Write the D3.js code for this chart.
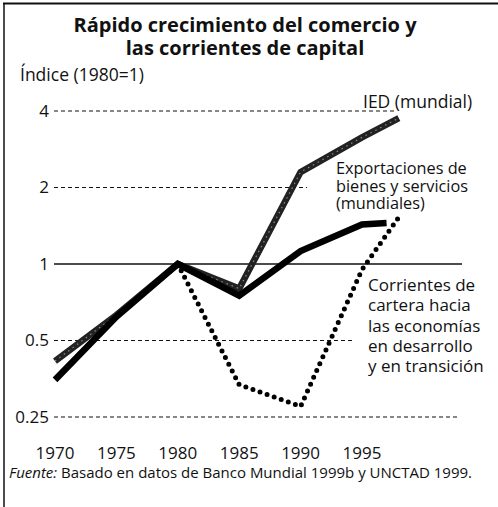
<!DOCTYPE html>
<html>
<head>
<meta charset="utf-8">
<script src="https://cdn.jsdelivr.net/npm/d3@7"></script>
<style>
  body { margin: 0; background: #fff; }
  text { font-family: 'Open Sans', sans-serif; fill: #111; }
</style>
</head>
<body>
<div id="chart"></div>
<script>
// data
var years = [ 1970, 1975, 1980, 1985, 1990, 1995 ];
var yTicks = [ 0.25, 0.5, 1, 2, 4 ];
var yTickLabels = [ '0.25', '0.5', '1', '2', '4' ];

var iedYears = [ 1970, 1975, 1980, 1985, 1990, 1995, 1998 ];
var iedValues = [ 0.415, 0.63, 1, 0.8, 2.3, 3.15, 3.75 ];

var expYears = [ 1970, 1975, 1980, 1985, 1990, 1995, 1997 ];
var expValues = [ 0.35, 0.62, 1, 0.75, 1.125, 1.43, 1.45 ];

var carteraYears = [ 1980, 1985, 1990, 1995, 1998 ];
var carteraValues = [ 1, 0.335, 0.275, 0.95, 1.53 ];

var width = 498, height = 507;

var x = d3.scaleLinear()
  .domain( [ 1970, 1995 ] )
  .range( [ 55, 362 ] );

var y = d3.scaleLog()
  .base( 2 )
  .domain( [ 0.25, 4 ] )
  .range( [ 417, 111 ] );

var svg = d3.select( '#chart' )
  .append( 'svg' )
  .attr( 'width', width )
  .attr( 'height', height );

// frame: top and left rule
svg.append( 'line' )
  .attr( 'x1', 3 ).attr( 'x2', width )
  .attr( 'y1', 3.5 ).attr( 'y2', 3.5 )
  .attr( 'stroke', '#111' ).attr( 'stroke-width', 2 );
svg.append( 'line' )
  .attr( 'x1', 4 ).attr( 'x2', 4 )
  .attr( 'y1', 3 ).attr( 'y2', height )
  .attr( 'stroke', '#111' ).attr( 'stroke-width', 1.5 );

// title
svg.append( 'text' )
  .attr( 'x', 245 ).attr( 'y', 32 )
  .attr( 'text-anchor', 'middle' )
  .attr( 'font-size', '20px' )
  .attr( 'font-weight', 'bold' )
  .text( 'Rápido crecimiento del comercio y' );
svg.append( 'text' )
  .attr( 'x', 245 ).attr( 'y', 55 )
  .attr( 'text-anchor', 'middle' )
  .attr( 'font-size', '20px' )
  .attr( 'font-weight', 'bold' )
  .text( 'las corrientes de capital' );

svg.append( 'text' )
  .attr( 'x', 20 ).attr( 'y', 81 )
  .attr( 'font-size', '17.5px' )
  .text( 'Índice (1980=1)' );

// grid lines, each one ends where the picture ends it
var gridEnds = { 0.25: 460, 0.5: 355, 1: 462, 2: 307, 4: 397 };

svg.selectAll( '.grid' )
  .data( yTicks )
  .enter()
  .append( 'line' )
  .attr( 'class', 'grid' )
  .attr( 'x1', 54 )
  .attr( 'x2', function( d ) { return gridEnds[ d ]; } )
  .attr( 'y1', function( d ) { return y( d ); } )
  .attr( 'y2', function( d ) { return y( d ); } )
  .attr( 'stroke', '#111' )
  .attr( 'stroke-width', function( d ) { return d === 1 ? 1.6 : 1.1; } )
  .attr( 'stroke-dasharray', function( d ) { return d === 1 ? null : '4,3'; } );

svg.selectAll( '.ytick' )
  .data( yTicks )
  .enter()
  .append( 'text' )
  .attr( 'class', 'ytick' )
  .attr( 'x', 49 )
  .attr( 'y', function( d ) { return y( d ); } )
  .attr( 'dy', '0.35em' )
  .attr( 'text-anchor', 'end' )
  .attr( 'font-size', '17px' )
  .text( function( d, i ) { return yTickLabels[ i ]; } );

svg.selectAll( '.xtick' )
  .data( years )
  .enter()
  .append( 'text' )
  .attr( 'class', 'xtick' )
  .attr( 'x', function( d ) { return x( d ); } )
  .attr( 'y', 459 )
  .attr( 'text-anchor', 'middle' )
  .attr( 'font-size', '17px' )
  .text( function( d ) { return d; } );

var line = d3.line()
  .x( function( d ) { return x( d[ 0 ] ); } )
  .y( function( d ) { return y( d[ 1 ] ); } );

var ied = d3.zip( iedYears, iedValues );
var exp = d3.zip( expYears, expValues );
var cartera = d3.zip( carteraYears, carteraValues );

// IED: dark thick line with a grey grain
svg.append( 'path' )
  .datum( ied )
  .attr( 'd', line )
  .attr( 'fill', 'none' )
  .attr( 'stroke', '#222' )
  .attr( 'stroke-width', 6.5 );
svg.append( 'path' )
  .datum( ied )
  .attr( 'd', line )
  .attr( 'fill', 'none' )
  .attr( 'stroke', '#8a8a8a' )
  .attr( 'stroke-width', 1.2 )
  .attr( 'stroke-dasharray', '1.5,4' );

// exports
svg.append( 'path' )
  .datum( exp )
  .attr( 'd', line )
  .attr( 'fill', 'none' )
  .attr( 'stroke', '#000' )
  .attr( 'stroke-width', 6.5 )
  .attr( 'stroke-linejoin', 'miter' );

// portfolio flows, dotted
svg.append( 'path' )
  .datum( cartera )
  .attr( 'd', line )
  .attr( 'fill', 'none' )
  .attr( 'stroke', '#000' )
  .attr( 'stroke-width', 5 )
  .attr( 'stroke-linecap', 'round' )
  .attr( 'stroke-dasharray', '0,7.5' );

// series labels
function label( lines, x0, y0, step, size ) {
  var t = svg.append( 'text' )
    .attr( 'font-size', size + 'px' );
  lines.forEach( function( s, i ) {
    t.append( 'tspan' )
      .attr( 'x', x0 )
      .attr( 'y', y0 + i * step )
      .text( s );
  } );
}

label( [ 'IED (mundial)' ], 363, 108, 0, 17.5 );
label( [ 'Exportaciones de', 'bienes y servicios', '(mundiales)' ], 336, 174, 17.5, 16.3 );
label( [ 'Corrientes de', 'cartera hacia', 'las economías', 'en desarrollo', 'y en transición' ], 368, 291, 20.3, 17 );

// source note
var note = svg.append( 'text' )
  .attr( 'x', 9 ).attr( 'y', 478 )
  .attr( 'font-size', '15px' );
note.append( 'tspan' )
  .attr( 'font-style', 'italic' )
  .text( 'Fuente:' );
note.append( 'tspan' )
  .text( ' Basado en datos de Banco Mundial 1999b y UNCTAD 1999.' );
</script>
</body>
</html>
